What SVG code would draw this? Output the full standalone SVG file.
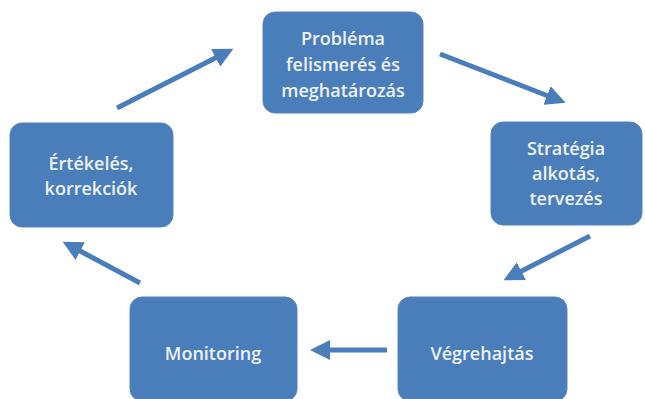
<svg xmlns="http://www.w3.org/2000/svg" width="645" height="399" viewBox="0 0 645 399">
<defs>
<style>
.box{fill:#4a7ebb;stroke:#5585c0;stroke-width:1}
.lbl{font-family:"Open Sans","Liberation Sans",sans-serif;font-size:18px;font-weight:600;fill:#eef2f8;text-anchor:middle}
.conn{stroke:#4a7ebb;stroke-width:5;fill:none;marker-end:url(#ah)}
</style>
<marker id="ah" markerWidth="4" markerHeight="4" refX="3" refY="2" orient="auto" markerUnits="strokeWidth">
<path d="M0,0 L4,2 L0,4 z" fill="#4a7ebb"/>
</marker>
</defs>
<rect width="645" height="399" fill="#ffffff"/>
<g id="n1"><rect class="box" x="263" y="12" width="160" height="101" rx="12"/>
<text class="lbl" x="343" y="45">Probléma</text>
<text class="lbl" x="343" y="71">felismerés és</text>
<text class="lbl" x="343" y="97">meghatározás</text></g>
<g id="n2"><rect class="box" x="491" y="122" width="151" height="103" rx="12"/>
<text class="lbl" x="566" y="155">Stratégia</text>
<text class="lbl" x="566" y="180">alkotás,</text>
<text class="lbl" x="566" y="205">tervezés</text></g>
<g id="n3"><rect class="box" x="398" y="297" width="169" height="104" rx="12"/>
<text class="lbl" x="482" y="360">Végrehajtás</text></g>
<g id="n4"><rect class="box" x="130" y="297" width="167" height="104" rx="12"/>
<text class="lbl" x="213" y="360">Monitoring</text></g>
<g id="n5"><rect class="box" x="10" y="123" width="163" height="104" rx="12"/>
<text class="lbl" x="91" y="170">Értékelés,</text>
<text class="lbl" x="91" y="195">korrekciók</text></g>
<g id="connectors">
<line class="conn" x1="117" y1="108" x2="229" y2="51"/>
<line class="conn" x1="440" y1="54" x2="561" y2="101"/>
<line class="conn" x1="590" y1="236" x2="508" y2="278"/>
<line class="conn" x1="387" y1="350" x2="315" y2="350"/>
<line class="conn" x1="140" y1="283" x2="67" y2="244"/>
</g>
</svg>
